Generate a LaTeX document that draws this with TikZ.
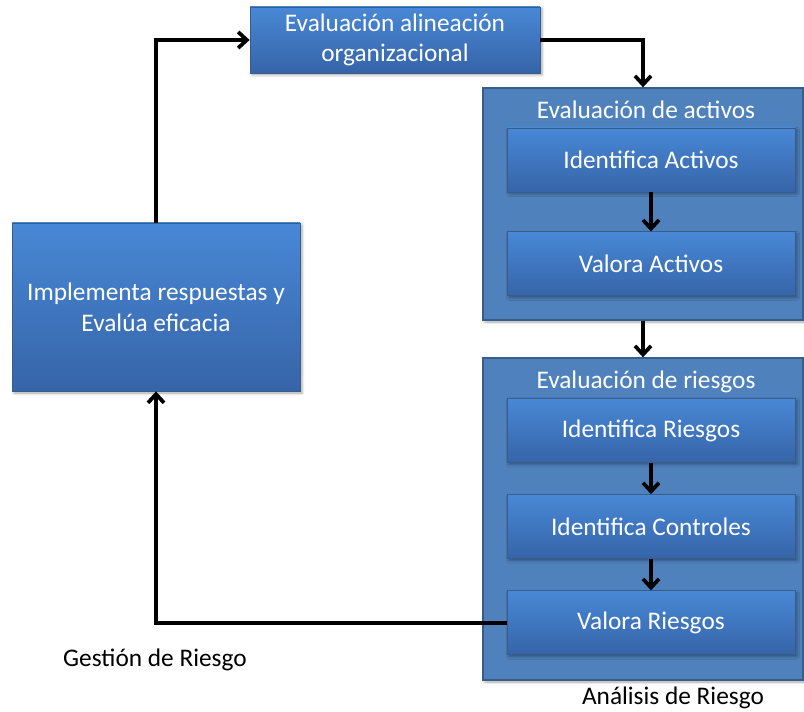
\documentclass[tikz,border=0pt]{standalone}
\usepackage{fontspec}
\setmainfont{Carlito}
\usetikzlibrary{
  arrows.meta,
  positioning,
  calc,
  shadows.blur
}
\definecolor{grpblue}{RGB}{79,129,189}
\definecolor{grpedge}{RGB}{56,93,138}
\definecolor{boxtop}{RGB}{72,136,214}
\definecolor{boxbot}{RGB}{54,100,168}

\begin{document}
\begin{tikzpicture}[
    x=0.75pt, y=-0.75pt,
    every node/.style={font=\fontsize{19}{23}\selectfont},
    box/.style={
      draw=grpedge,
      line width=0.6pt,
      top color=boxtop,
      bottom color=boxbot,
      text=white,
      align=center,
      minimum width=216pt,
      minimum height=48pt,
      inner sep=1pt,
      blur shadow={shadow xshift=1.5pt, shadow yshift=-1.5pt, shadow opacity=35}
    },
    group/.style={
      draw=grpedge,
      line width=1pt,
      fill=grpblue,
      minimum width=240pt,
      blur shadow={shadow xshift=1.5pt, shadow yshift=-1.5pt, shadow opacity=35}
    },
    title/.style={text=white},
    caption/.style={text=black},
    ar/.style={-{Straight Barb[length=6.5pt, width=12pt, line width=2.8pt]}, line width=2.8pt}
  ]
    \useasboundingbox (0,0) rectangle (804,712);

    % Groups behind the steps
    \node[group, minimum height=174pt] (grpA) at (643,204) {};
    \node[group, minimum height=241.5pt] (grpB) at (643,519) {};
    \node[title] (titA) at (646,110) {Evaluación de activos};
    \node[title] (titB) at (646,382) {Evaluación de riesgos};

    % Left and top
    \node[box, minimum height=126pt] (impl) at (156,307)
      {Implementa respuestas y\\Evalúa eficacia};
    \node[box, minimum width=217.5pt, minimum height=49.5pt] (align) at (395,40)
      {Evaluación alineación\\organizacional};

    % Asset steps
    \node[box] (idA) at (651,160) {Identifica Activos};
    \node[box, below=29.25pt of idA] (valA) {Valora Activos};

    % Risk steps
    \node[box] (idR) at (651,430.5) {Identifica Riesgos};
    \node[box, below=23.5pt of idR] (idC) {Identifica Controles};
    \node[box, below=23.5pt of idC] (valR) {Valora Riesgos};

    % Captions
    \node[caption] (gestion) at (155,660) {Gestión de Riesgo};
    \node[caption] (analisis) at (673,698) {Análisis de Riesgo};

    \draw[ar] (impl.north) |- (align.west);
    \draw[ar] (align.east) -| (grpA.north);
    \draw[ar] (idA) -- (valA);
    \draw[ar] (grpA.south) -- (grpB.north);
    \draw[ar] (idR) -- (idC);
    \draw[ar] (idC) -- (valR);
    \draw[ar] (valR.west) -| (impl.south);

  \end{tikzpicture}
\end{document}
